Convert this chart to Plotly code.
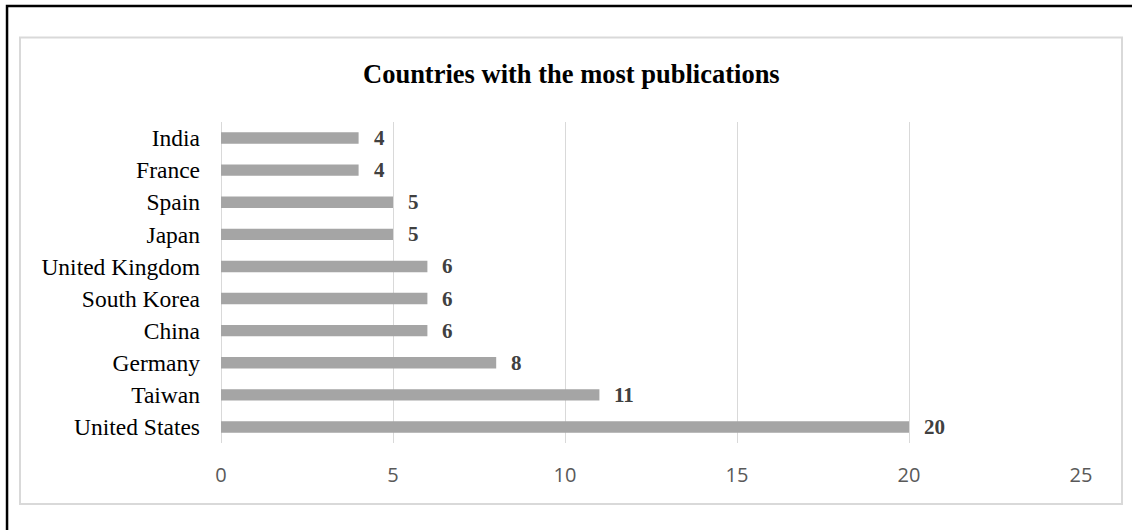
import plotly.graph_objects as go

countries = ["United States", "Taiwan", "Germany", "China", "South Korea",
             "United Kingdom", "Japan", "Spain", "France", "India"]
publications = [20, 11, 8, 6, 6, 6, 5, 5, 4, 4]
x_ticks = [0, 5, 10, 15, 20, 25]

SERIF = "Liberation Serif, Times New Roman, serif"
SANS = "Open Sans, Carlito, Calibri, sans-serif"

fig = go.Figure()
fig.add_trace(go.Bar(
    x=publications, y=countries, orientation="h",
    marker=dict(color="#a5a5a5", line=dict(width=0)),
    hoverinfo="x+y",
))

annotations = [
    dict(x=v, y=c, xref="x", yref="y", text=f"<b>{v}</b>", showarrow=False,
         xanchor="left", yanchor="middle", xshift=13,
         font=dict(family=SERIF, size=21, color="#404040"))
    for c, v in zip(countries, publications)
]
annotations.append(dict(
    text="<b>Countries with the most publications</b>", xref="paper", yref="paper",
    x=0.407, y=1.148, xanchor="center", yanchor="middle", showarrow=False,
    font=dict(family=SERIF, size=26.5, color="#000000")))

fig.update_layout(
    width=1132, height=530,
    margin=dict(l=221, r=51, t=122, b=87),
    paper_bgcolor="white", plot_bgcolor="white",
    bargap=0.645,
    showlegend=False,
    annotations=annotations,
    xaxis=dict(range=[0, 25], tickvals=x_ticks, showgrid=True, gridcolor="#d9d9d9",
               gridwidth=1, zeroline=True, zerolinecolor="#d9d9d9", zerolinewidth=1,
               showline=False, ticks="", ticklabelstandoff=18,
               tickfont=dict(family=SANS, size=20, color="#595959")),
    yaxis=dict(showgrid=False, showline=False, ticks="", ticklabelstandoff=20,
               tickfont=dict(family=SERIF, size=23.5, color="#000000"),
               categoryorder="array", categoryarray=countries),
    shapes=[
        dict(type="rect", xref="paper", yref="paper",
             x0=-0.2337, x1=1.0477, y0=-0.190, y1=1.263,
             line=dict(color="#d9d9d9", width=2), fillcolor="rgba(0,0,0,0)", layer="below"),
        dict(type="rect", xref="paper", yref="paper",
             x0=-0.2488, x1=1.08, y0=-0.33, y1=1.361,
             line=dict(color="#000000", width=2.5), fillcolor="rgba(0,0,0,0)"),
    ],
)

fig.write_html("out.html")
